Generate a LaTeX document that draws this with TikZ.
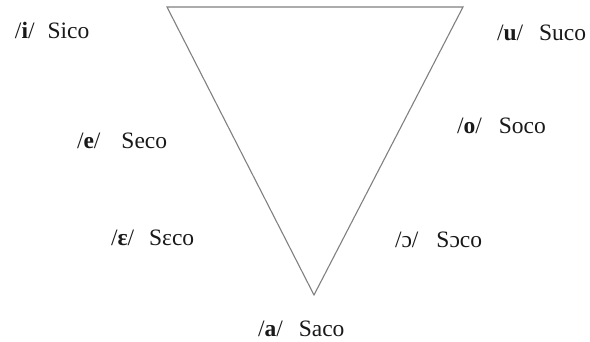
\documentclass[tikz,border=0pt]{standalone}
\usepackage{fontspec}
\setmainfont{Liberation Serif}
\usepackage{tikz}
\usetikzlibrary{positioning}

\tikzset{
  vowel/.style={anchor=base west, inner sep=0pt, outer sep=0pt,
                font=\fontsize{23.5}{27}\selectfont, text=black!90},
  edge/.style={draw=black!50, line width=1.1pt, line join=miter}
}

\begin{document}
\begin{tikzpicture}[x=1pt,y=-1pt]
        \useasboundingbox (0,0) rectangle (590,341);
        % corners of the triangle
        \coordinate (hi) at (167,7);
        \coordinate (ho) at (463,7);
        \coordinate (lo) at (314,295);
        \draw[edge] (hi) -- (ho) -- (lo) -- cycle;
        % front vowels
        \node[vowel] (vi) at (15,38) {/\textbf{i}/\hspace{13pt}Sico};
        \node[vowel] (ve) at (77,148) {/\textbf{e}/\hspace{21pt}Seco};
        \node[vowel] (veps) at (111,245) {/\textbf{ɛ}/\hspace{15pt}Sɛco};
        % open vowel
        \node[vowel] (va) at (258,336) {/\textbf{a}/\hspace{16pt}Saco};
        % back vowels
        \node[vowel] (vu) at (497,40) {/\textbf{u}/\hspace{16pt}Suco};
        \node[vowel] (vo) at (457,133) {/\textbf{o}/\hspace{17pt}Soco};
        \node[vowel] (vopen) at (395,247) {/ɔ/\hspace{18pt}Sɔco};
      \end{tikzpicture}
\end{document}
